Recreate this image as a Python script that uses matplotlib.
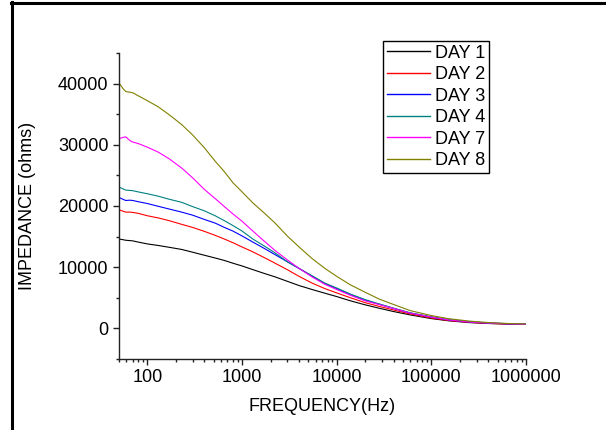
import matplotlib
matplotlib.use("Agg")
import matplotlib.pyplot as plt
from matplotlib.lines import Line2D
from matplotlib.ticker import FixedLocator, LogLocator, NullFormatter

plt.rcParams['font.family'] = ['Liberation Sans', 'DejaVu Sans']

freq = [50, 55, 59, 65, 70, 80, 100, 130, 170, 230, 300, 400, 520, 650, 800,
        1000, 1300, 1700, 2200, 3000, 4000, 5500, 7500, 10000, 14000, 20000,
        28000, 40000, 60000, 100000, 150000, 250000, 400000, 650000, 1000000]

# impedance values in kilo-ohms
day1 = [14.6, 14.5, 14.4, 14.35, 14.3, 14.1, 13.8, 13.55, 13.25, 12.9, 12.45,
        11.95, 11.5, 11.1, 10.65, 10.2, 9.6, 9.0, 8.45, 7.7, 7.0, 6.35, 5.75,
        5.2, 4.5, 3.85, 3.3, 2.75, 2.2, 1.6, 1.25, 0.95, 0.8, 0.7, 0.66]
day2 = [19.4, 19.15, 19.0, 19.0, 18.95, 18.8, 18.4, 18.05, 17.6, 17.0, 16.5,
        15.85, 15.2, 14.6, 14.0, 13.3, 12.5, 11.6, 10.7, 9.6, 8.5, 7.4, 6.5,
        5.8, 5.0, 4.2, 3.6, 3.0, 2.35, 1.7, 1.3, 1.0, 0.82, 0.72, 0.66]
day3 = [21.4, 21.1, 20.9, 20.95, 20.9, 20.7, 20.4, 19.95, 19.5, 19.0, 18.5,
        17.8, 17.2, 16.5, 15.9, 15.1, 14.1, 13.1, 12.1, 10.9, 9.8, 8.5, 7.3,
        6.5, 5.5, 4.6, 3.95, 3.25, 2.5, 1.85, 1.4, 1.05, 0.87, 0.75, 0.68]
day4 = [23.1, 22.8, 22.6, 22.55, 22.5, 22.3, 22.0, 21.6, 21.1, 20.6, 19.9,
        19.2, 18.4, 17.6, 16.8, 15.9, 14.6, 13.5, 12.4, 10.9, 9.8, 8.6, 7.4,
        6.6, 5.6, 4.7, 4.0, 3.3, 2.55, 1.9, 1.45, 1.1, 0.9, 0.77, 0.7]
day7 = [31.0, 31.2, 31.3, 30.7, 30.45, 30.2, 29.6, 28.8, 27.7, 26.2, 24.6,
        22.7, 21.2, 19.9, 18.7, 17.5, 15.9, 14.3, 12.8, 11.2, 9.8, 8.4, 7.2,
        6.35, 5.4, 4.5, 3.9, 3.25, 2.5, 1.85, 1.4, 1.05, 0.87, 0.75, 0.68]
day8 = [40.1, 39.2, 38.7, 38.6, 38.5, 38.0, 37.2, 36.2, 34.9, 33.3, 31.6,
        29.5, 27.3, 25.6, 23.8, 22.3, 20.5, 18.9, 17.3, 15.1, 13.3, 11.4, 9.8,
        8.5, 7.1, 5.9, 4.8, 3.9, 2.9, 2.1, 1.6, 1.2, 0.95, 0.8, 0.72]

labels = ["DAY 1", "DAY 2", "DAY 3", "DAY 4", "DAY 7", "DAY 8"]
colors = ["#000000", "#ff0000", "#0000ff", "#008080", "#ff00ff", "#808000"]
all_days = [day1, day2, day3, day4, day7, day8]

xticks = [100, 1000, 10000, 100000, 1000000]
xticklabels = ["100", "1000", "10000", "100000", "1000000"]
yticks = [0, 10000, 20000, 30000, 40000]
yticklabels = ["0", "10000", "20000", "30000", "40000"]

fig = plt.figure(figsize=(6.06, 4.30), dpi=100)
ax = fig.add_axes([119/606, 71/430, 407/606, 306/430])

for name, vals, col in zip(labels, all_days, colors):
    ax.plot(freq, [v * 1000 for v in vals], color=col, lw=0.8, label=name)

ax.set_xscale('log')
ax.set_xlim(50, 1000000)
ax.set_ylim(-5000, 45000)
ax.set_xticks(xticks)
ax.set_xticklabels(xticklabels)
ax.xaxis.set_minor_locator(LogLocator(base=10, subs=range(2, 10), numticks=20))
ax.xaxis.set_minor_formatter(NullFormatter())
ax.set_yticks(yticks)
ax.set_yticklabels(yticklabels)
ax.yaxis.set_minor_locator(FixedLocator([-5000, 5000, 15000, 25000, 35000, 45000]))

ax.spines['top'].set_visible(False)
ax.spines['right'].set_visible(False)
for s in ('left', 'bottom'):
    ax.spines[s].set_linewidth(1.0)
    ax.spines[s].set_color('#222222')

ax.tick_params(which='major', direction='out', length=4.5, width=1.0, labelsize=13,
               pad=3, color='#222222')
ax.tick_params(which='minor', direction='out', length=2.5, width=1.0, color='#222222')

ax.set_xlabel("FREQUENCY(Hz)", fontsize=13, labelpad=8)
ax.set_ylabel("IMPEDANCE (ohms)", fontsize=13, labelpad=16)

leg = ax.legend(loc='upper left', bbox_to_anchor=(383/606, 1 - 41/430),
                bbox_transform=fig.transFigure, fontsize=13, frameon=True,
                fancybox=False, framealpha=1, edgecolor='black', borderaxespad=0,
                borderpad=0.2, handlelength=2.4, handletextpad=0.3,
                labelspacing=0.25)
leg.get_frame().set_linewidth(1.0)
for h in leg.get_lines():
    h.set_linewidth(1.0)

# figure border lines (left and top)
fig.add_artist(Line2D([12/606, 12/606], [0, 1 - 2/430], transform=fig.transFigure,
                      color='black', lw=2.2))
fig.add_artist(Line2D([11/606, 1], [1 - 3/430, 1 - 3/430], transform=fig.transFigure,
                      color='black', lw=2.2))

fig.savefig("out.png", dpi=100)
